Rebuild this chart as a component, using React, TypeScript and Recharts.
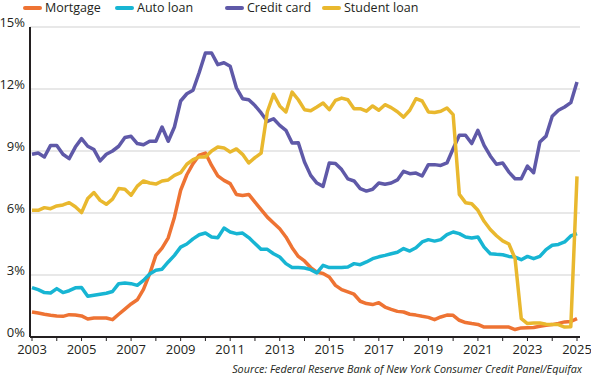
import { LineChart, Line, XAxis, YAxis, CartesianGrid } from 'recharts';

// quarterly, 2003 Q1 through 2025 Q1
const startYear = 2003;
const yearTicks = [
  2003, 2004, 2005, 2006, 2007, 2008, 2009, 2010, 2011, 2012, 2013, 2014,
  2015, 2016, 2017, 2018, 2019, 2020, 2021, 2022, 2023, 2024, 2025,
];
const pctTicks = [0, 3, 6, 9, 12, 15];

const mortgage = [
  1.21, 1.16, 1.1, 1.05, 1.02, 1.0, 1.08, 1.06, 1.02, 0.87, 0.92, 0.92,
  0.92, 0.84, 1.1, 1.35, 1.6, 1.8, 2.3, 3.05, 3.95, 4.3, 4.8, 5.8,
  7.1, 7.85, 8.39, 8.8, 8.9, 8.3, 7.8, 7.58, 7.42, 6.9, 6.85, 6.9,
  6.53, 6.16, 5.8, 5.52, 5.24, 4.84, 4.32, 3.9, 3.68, 3.36, 3.14, 3.07,
  2.9, 2.5, 2.29, 2.18, 2.07, 1.73, 1.62, 1.57, 1.66, 1.45, 1.34, 1.24,
  1.21, 1.1, 1.06, 1.0, 0.95, 0.84, 0.97, 1.06, 1.05, 0.81, 0.7, 0.65,
  0.61, 0.48, 0.48, 0.48, 0.48, 0.48, 0.36, 0.44, 0.45, 0.46, 0.52, 0.57,
  0.6, 0.66, 0.73, 0.75, 0.89,
];

const autoLoan = [
  2.39, 2.29, 2.15, 2.13, 2.34, 2.15, 2.24, 2.38, 2.39, 1.97, 2.02, 2.07,
  2.12, 2.2, 2.58, 2.61, 2.58, 2.5, 2.74, 3.05, 3.23, 3.28, 3.63, 3.95,
  4.35, 4.5, 4.75, 4.95, 5.03, 4.84, 4.8, 5.27, 5.08, 5.0, 5.03, 4.81,
  4.52, 4.24, 4.24, 4.03, 3.87, 3.55, 3.36, 3.36, 3.34, 3.26, 3.1, 3.47,
  3.36, 3.36, 3.36, 3.39, 3.55, 3.5, 3.63, 3.79, 3.88, 3.95, 4.03, 4.1,
  4.28, 4.16, 4.32, 4.6, 4.71, 4.64, 4.71, 4.95, 5.08, 5.0, 4.84, 4.79,
  4.84, 4.35, 4.03, 4.0, 3.98, 3.9, 3.87, 3.74, 3.9, 3.79, 3.9, 4.23,
  4.44, 4.48, 4.6, 4.89, 5.0,
];

const creditCard = [
  8.84, 8.9, 8.71, 9.27, 9.27, 8.84, 8.63, 9.19, 9.6, 9.23, 9.07, 8.52,
  8.84, 9.0, 9.23, 9.65, 9.71, 9.36, 9.3, 9.47, 9.47, 10.16, 9.47, 10.16,
  11.42, 11.77, 11.94, 12.8, 13.74, 13.74, 13.18, 13.27, 13.1, 12.06, 11.53, 11.48,
  11.2, 10.84, 10.43, 10.56, 10.24, 10.0, 9.39, 9.4, 8.47, 7.82, 7.45, 7.29,
  8.42, 8.4, 8.1, 7.65, 7.55, 7.18, 7.06, 7.15, 7.45, 7.39, 7.45, 7.6,
  8.02, 7.9, 7.93, 7.79, 8.34, 8.34, 8.3, 8.42, 9.11, 9.76, 9.76, 9.36,
  10.0, 9.27, 8.76, 8.36, 8.42, 7.98, 7.66, 7.66, 8.27, 7.95, 9.43, 9.72,
  10.68, 10.97, 11.13, 11.34, 12.34,
];

const studentLoan = [
  6.13, 6.13, 6.26, 6.21, 6.34, 6.39, 6.5, 6.3, 6.02, 6.7, 6.99, 6.61,
  6.42, 6.67, 7.18, 7.15, 6.86, 7.3, 7.55, 7.45, 7.4, 7.55, 7.6, 7.82,
  7.95, 8.36, 8.58, 8.71, 8.71, 9.0, 9.19, 9.15, 8.95, 9.1, 8.84, 8.42,
  8.68, 8.9, 10.9, 11.74, 11.18, 10.89, 11.85, 11.48, 11.0, 10.95, 11.13, 11.32,
  11.0, 11.45, 11.56, 11.48, 11.05, 11.05, 10.93, 11.18, 10.97, 11.24, 11.1, 10.9,
  10.64, 10.97, 11.53, 11.42, 10.89, 10.86, 10.92, 11.08, 10.76, 6.9, 6.5, 6.45,
  6.13, 5.6, 5.2, 4.9, 4.65, 4.5, 3.8, 0.89, 0.65, 0.68, 0.68, 0.62,
  0.6, 0.6, 0.48, 0.5, 7.77,
];

const series = [
  { key: 'mortgage', name: 'Mortgage', color: '#ee7333', legendX: 23 },
  { key: 'autoLoan', name: 'Auto loan', color: '#17b5d3', legendX: 115 },
  { key: 'creditCard', name: 'Credit card', color: '#5f59a8', legendX: 225 },
  { key: 'studentLoan', name: 'Student loan', color: '#e9b82e', legendX: 322 },
];

const data = creditCard.map((_, i) => ({
  t: startYear + i / 4,
  mortgage: mortgage[i],
  autoLoan: autoLoan[i],
  creditCard: creditCard[i],
  studentLoan: studentLoan[i],
}));

const font = '"Open Sans", sans-serif';
const ink = '#231f20';

function YearTick(props: any) {
  const { x, y, payload } = props;
  if (payload.value % 2 === 0) return <g />;
  return (
    <text x={x} y={y + 11} textAnchor="middle" fontSize={13} fontFamily={font} fill={ink}>
      {payload.value}
    </text>
  );
}

function PctTick(props: any) {
  const { x, y, payload } = props;
  return (
    <text x={x} y={y} textAnchor="end" fontSize={13} fontFamily={font} fill={ink}>
      {payload.value}%
    </text>
  );
}

export default function App() {
  return (
    <div style={{ position: 'absolute', left: 0, top: 0, width: 591, height: 375, background: '#fff' }}>
      {series.map((s) => (
        <div
          key={s.key}
          style={{
            position: 'absolute', top: 0, left: s.legendX, height: 16, display: 'flex', alignItems: 'center',
            fontFamily: font, fontSize: 12.5, color: ink, lineHeight: '16px', whiteSpace: 'nowrap',
          }}
        >
          <span style={{ display: 'inline-block', width: 19, height: 4, borderRadius: 2, background: s.color, marginRight: 3 }} />
          <span>{s.name}</span>
        </div>
      ))}
      <LineChart width={591} height={375} data={data} margin={{ top: 27, right: 11, bottom: 18, left: 0 }}>
        <CartesianGrid vertical={false} stroke="#e0e0e0" strokeWidth={1.5} />
        <XAxis
          dataKey="t"
          type="number"
          domain={[2003, 2025]}
          ticks={yearTicks}
          interval={0}
          tick={YearTick}
          tickSize={4}
          tickLine={{ stroke: ink, strokeWidth: 1 }}
          axisLine={{ stroke: ink, strokeWidth: 2 }}
          padding={{ left: 2, right: 3 }}
          height={20}
        />
        <YAxis
          domain={[0, 15]}
          ticks={pctTicks}
          interval={0}
          width={30}
          tick={PctTick}
          tickLine={false}
          tickSize={4}
          tickMargin={1}
          axisLine={{ stroke: ink, strokeWidth: 2 }}
        />
        {series.map((s) => (
          <Line
            key={s.key}
            dataKey={s.key}
            name={s.name}
            stroke={s.color}
            strokeWidth={3.5}
            strokeLinejoin="round"
            dot={false}
            isAnimationActive={false}
          />
        ))}
      </LineChart>
      <div
        style={{
          position: 'absolute', right: 9, top: 361, fontFamily: font, fontSize: 10.8,
          fontStyle: 'italic', color: ink, whiteSpace: 'nowrap',
        }}
      >
        Source: Federal Reserve Bank of New York Consumer Credit Panel/Equifax
      </div>
    </div>
  );
}
